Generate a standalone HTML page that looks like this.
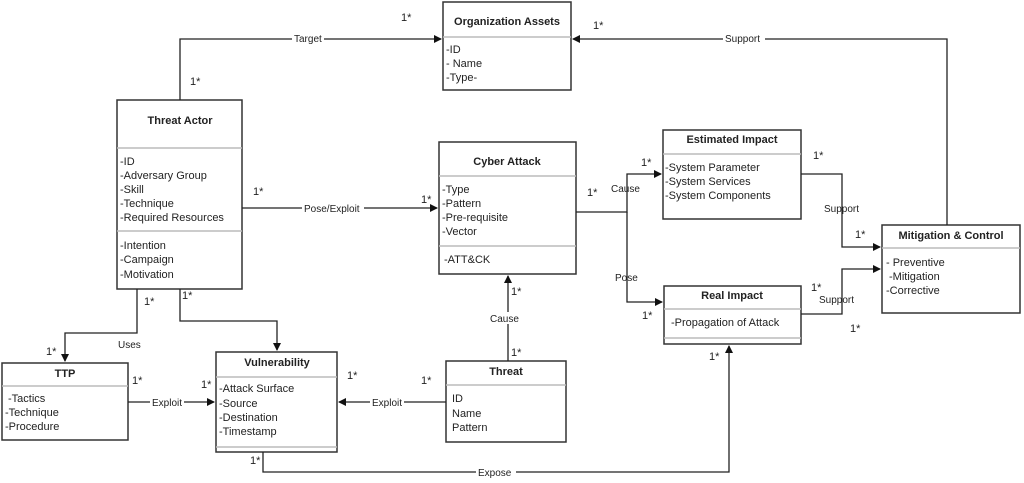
<!DOCTYPE html>
<html><head><meta charset="utf-8"><style>
html,body{margin:0;padding:0;background:#fff;width:1024px;height:483px;overflow:hidden}
svg text{font-family:"Liberation Sans",sans-serif;font-size:11px;fill:#222}
.b{font-weight:bold}
.l{font-size:10px}
</style></head><body>
<svg width="1024" height="483" viewBox="0 0 1024 483" xmlns="http://www.w3.org/2000/svg">
<defs><marker id="a" markerWidth="8" markerHeight="8" refX="7" refY="4" orient="auto" markerUnits="userSpaceOnUse"><path d="M0,0 L8,4 L0,8 z" fill="#111"/></marker></defs>
<g fill="#fff" stroke="#333" stroke-width="1.5">
<rect x="443" y="2" width="128" height="88"/>
<rect x="117" y="100" width="125" height="189"/>
<rect x="439" y="142" width="137" height="132"/>
<rect x="663" y="130" width="138" height="89"/>
<rect x="882" y="225" width="138" height="88"/>
<rect x="664" y="286" width="137" height="58"/>
<rect x="2" y="363" width="126" height="77"/>
<rect x="216" y="352" width="121" height="100"/>
<rect x="446" y="361" width="120" height="81"/>
</g>
<g stroke="#bbb" stroke-width="1.5">
<line x1="443" y1="37" x2="571" y2="37"/>
<line x1="117" y1="148" x2="242" y2="148"/>
<line x1="117" y1="231" x2="242" y2="231"/>
<line x1="439" y1="176" x2="576" y2="176"/>
<line x1="439" y1="246" x2="576" y2="246"/>
<line x1="663" y1="154" x2="801" y2="154"/>
<line x1="882" y1="248" x2="1020" y2="248"/>
<line x1="664" y1="309" x2="801" y2="309"/>
<line x1="664" y1="338" x2="801" y2="338"/>
<line x1="2" y1="386" x2="128" y2="386"/>
<line x1="216" y1="377" x2="337" y2="377"/>
<line x1="216" y1="447" x2="337" y2="447"/>
<line x1="446" y1="385" x2="566" y2="385"/>
</g>
<g fill="none" stroke="#222" stroke-width="1.3">
<polyline points="180,100 180,39 441,39" marker-end="url(#a)"/>
<polyline points="947,225 947,39 573,39" marker-end="url(#a)"/>
<polyline points="242,208 437,208" marker-end="url(#a)"/>
<polyline points="576,212 627,212 627,174 661,174" marker-end="url(#a)"/>
<polyline points="627,212 627,302 662,302" marker-end="url(#a)"/>
<polyline points="801,174 842,174 842,247 880,247" marker-end="url(#a)"/>
<polyline points="801,314 842,314 842,269 880,269" marker-end="url(#a)"/>
<polyline points="137,289 137,333 65,333 65,361" marker-end="url(#a)"/>
<polyline points="180,289 180,321 277,321 277,350" marker-end="url(#a)"/>
<polyline points="128,402 214,402" marker-end="url(#a)"/>
<polyline points="446,402 339,402" marker-end="url(#a)"/>
<polyline points="508,361 508,276" marker-end="url(#a)"/>
<polyline points="263,452 263,472 729,472 729,346" marker-end="url(#a)"/>
</g>
<g fill="#fff">
<rect x="292" y="33" width="32" height="12"/>
<rect x="723" y="33" width="42" height="12"/>
<rect x="302" y="202" width="62" height="12"/>
<rect x="150" y="396" width="34" height="12"/>
<rect x="370" y="396" width="34" height="12"/>
<rect x="488" y="312" width="38" height="12"/>
<rect x="476" y="466" width="40" height="12"/>
</g>
<text class="l" x="294" y="42">Target</text>
<text class="l" x="725" y="42">Support</text>
<text class="l" x="304" y="212">Pose/Exploit</text>
<text class="l" x="611" y="192">Cause</text>
<text class="l" x="615" y="281">Pose</text>
<text class="l" x="824" y="212">Support</text>
<text class="l" x="819" y="303">Support</text>
<text class="l" x="118" y="348">Uses</text>
<text class="l" x="152" y="406">Exploit</text>
<text class="l" x="372" y="406">Exploit</text>
<text class="l" x="490" y="322">Cause</text>
<text class="l" x="478" y="476">Expose</text>
<g class="l">
<text x="401" y="21">1*</text><text x="593" y="29">1*</text><text x="190" y="85">1*</text>
<text x="253" y="195">1*</text><text x="421" y="203">1*</text><text x="587" y="196">1*</text>
<text x="641" y="166">1*</text><text x="813" y="159">1*</text><text x="855" y="238">1*</text>
<text x="811" y="291">1*</text><text x="850" y="332">1*</text><text x="642" y="319">1*</text>
<text x="144" y="305">1*</text><text x="182" y="299">1*</text><text x="46" y="355">1*</text>
<text x="132" y="384">1*</text><text x="201" y="388">1*</text><text x="347" y="379">1*</text>
<text x="421" y="384">1*</text><text x="511" y="295">1*</text><text x="511" y="356">1*</text>
<text x="250" y="464">1*</text><text x="709" y="360">1*</text>
</g>
<text class="b" x="507" y="25" text-anchor="middle">Organization Assets</text>
<text x="446" y="53">-ID</text><text x="446" y="67">- Name</text><text x="446" y="81">-Type-</text>
<text class="b" x="180" y="124" text-anchor="middle">Threat Actor</text>
<text x="120" y="165">-ID</text><text x="120" y="179">-Adversary Group</text><text x="120" y="193">-Skill</text><text x="120" y="207">-Technique</text><text x="120" y="221">-Required Resources</text>
<text x="120" y="249">-Intention</text><text x="120" y="263">-Campaign</text><text x="120" y="278">-Motivation</text>
<text class="b" x="507" y="165" text-anchor="middle">Cyber Attack</text>
<text x="442" y="193">-Type</text><text x="442" y="207">-Pattern</text><text x="442" y="221">-Pre-requisite</text><text x="442" y="235">-Vector</text>
<text x="444" y="263">-ATT&amp;CK</text>
<text class="b" x="732" y="143" text-anchor="middle">Estimated Impact</text>
<text x="665" y="171">-System Parameter</text><text x="665" y="185">-System Services</text><text x="665" y="199">-System Components</text>
<text class="b" x="951" y="239" text-anchor="middle">Mitigation &amp; Control</text>
<text x="886" y="266">- Preventive</text><text x="889" y="280">-Mitigation</text><text x="886" y="294">-Corrective</text>
<text class="b" x="732" y="299" text-anchor="middle">Real Impact</text>
<text x="671" y="326">-Propagation of Attack</text>
<text class="b" x="65" y="377" text-anchor="middle">TTP</text>
<text x="8" y="402">-Tactics</text><text x="5" y="416">-Technique</text><text x="5" y="430">-Procedure</text>
<text class="b" x="277" y="366" text-anchor="middle">Vulnerability</text>
<text x="219" y="392">-Attack Surface</text><text x="219" y="407">-Source</text><text x="219" y="421">-Destination</text><text x="219" y="435">-Timestamp</text>
<text class="b" x="506" y="375" text-anchor="middle">Threat</text>
<text x="452" y="402">ID</text><text x="452" y="417">Name</text><text x="452" y="431">Pattern</text>
</svg>
</body></html>
